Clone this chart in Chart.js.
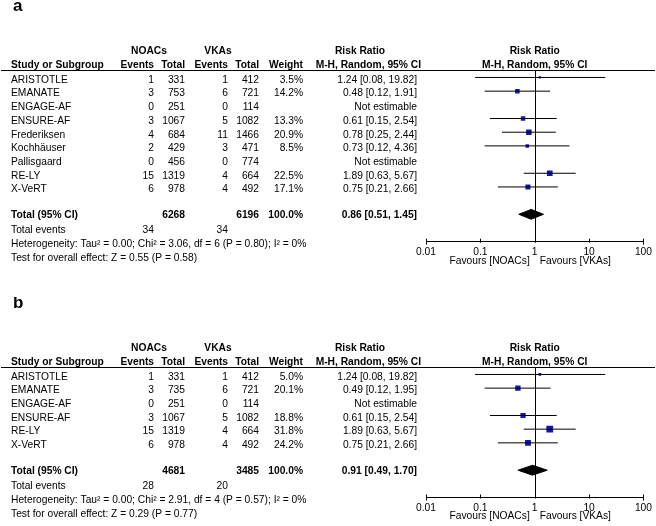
<!DOCTYPE html>
<html>
<head>
<meta charset="utf-8">
<script src="https://cdn.jsdelivr.net/npm/chart.js@4.4.0/dist/chart.umd.min.js"></script>
<style>
  html, body { margin: 0; padding: 0; background: #fff; }
  #wrap { position: relative; width: 656px; height: 526px; }
  canvas { position: absolute; left: 0; }
  #panelA { top: 0; }
  #panelB { top: 297px; }
</style>
</head>
<body>
<div id="wrap">
  <canvas id="panelA" width="656" height="297"></canvas>
  <canvas id="panelB" width="656" height="229"></canvas>
</div>
<script>
// ---- panel a ----
const aStudies = ['ARISTOTLE', 'EMANATE', 'ENGAGE-AF', 'ENSURE-AF', 'Frederiksen', 'Kochhäuser', 'Pallisgaard', 'RE-LY', 'X-VeRT'];
const aNoacEvents = [1, 3, 0, 3, 4, 2, 0, 15, 6];
const aNoacTotal = [331, 753, 251, 1067, 684, 429, 456, 1319, 978];
const aVkaEvents = [1, 6, 0, 5, 11, 3, 0, 4, 4];
const aVkaTotal = [412, 721, 114, 1082, 1466, 471, 774, 664, 492];
const aWeight = [3.5, 14.2, null, 13.3, 20.9, 8.5, null, 22.5, 17.1];
const aRR = [1.24, 0.48, null, 0.61, 0.78, 0.73, null, 1.89, 0.75];
const aLower = [0.08, 0.12, null, 0.15, 0.25, 0.12, null, 0.63, 0.21];
const aUpper = [19.82, 1.91, null, 2.54, 2.44, 4.36, null, 5.67, 2.66];
const aTotals = [6268, 6196];
const aTotalEvents = [34, 34];
const aPooled = [0.86, 0.51, 1.45]; // estimate, lower, upper
const aHetText = 'Heterogeneity: Tau² = 0.00; Chi² = 3.06, df = 6 (P = 0.80); I² = 0%';
const aTestText = 'Test for overall effect: Z = 0.55 (P = 0.58)';

// ---- panel b ----
const bStudies = ['ARISTOTLE', 'EMANATE', 'ENGAGE-AF', 'ENSURE-AF', 'RE-LY', 'X-VeRT'];
const bNoacEvents = [1, 3, 0, 3, 15, 6];
const bNoacTotal = [331, 735, 251, 1067, 1319, 978];
const bVkaEvents = [1, 6, 0, 5, 4, 4];
const bVkaTotal = [412, 721, 114, 1082, 664, 492];
const bWeight = [5.0, 20.1, null, 18.8, 31.8, 24.2];
const bRR = [1.24, 0.49, null, 0.61, 1.89, 0.75];
const bLower = [0.08, 0.12, null, 0.15, 0.63, 0.21];
const bUpper = [19.82, 1.95, null, 2.54, 5.67, 2.66];
const bTotals = [4681, 3485];
const bTotalEvents = [28, 20];
const bPooled = [0.91, 0.49, 1.70];
const bHetText = 'Heterogeneity: Tau² = 0.00; Chi² = 2.91, df = 4 (P = 0.57); I² = 0%';
const bTestText = 'Test for overall effect: Z = 0.29 (P = 0.77)';

const axisTicks = [0.01, 0.1, 1, 10, 100];

const FONT = '"Liberation Sans", Arial, sans-serif';
const FONT_PX = 10.25;
const SQUARE_BLUE = '#1414b4';
const ROW_PX = 13.71;
const TOP_PAD = 70;
const Y_TOP = -0.545;

// table column anchors (right edges unless noted)
const COL = { study: 11, noacEv: 154, noacTot: 185, vkaEv: 228, vkaTot: 259, weight: 303, rr: 417,
              noacHead: 149, vkaHead: 218, rrHead: 360, mhRight: 421 };

function fmtRR(r, l, h) {
    return r.toFixed(2) + ' [' + l.toFixed(2) + ', ' + h.toFixed(2) + ']';
}

function text(ctx, s, x, y, align, bold) {
    ctx.font = (bold ? 'bold ' : '') + FONT_PX + 'px ' + FONT;
    ctx.textAlign = align;
    ctx.fillText(s, x, y);
}

function buildForest(canvasId, p) {
    const n = p.studies.length;
    const totalRow = n + 1;
    const axisRow = n + 3;
    const canvas = document.getElementById(canvasId);
    const axisPx = TOP_PAD + (axisRow - Y_TOP) * ROW_PX;

    const datasets = [];
    // confidence interval whiskers
    p.rr.forEach((r, i) => {
        if (r === null) return;
        datasets.push({
            data: [{ x: p.lower[i], y: i }, { x: p.upper[i], y: i }],
            borderColor: '#000', borderWidth: 1, pointRadius: 0, fill: false
        });
    });
    // weighted squares
    const pts = [];
    const radii = [];
    p.rr.forEach((r, i) => {
        if (r === null) return;
        pts.push({ x: r, y: i });
        radii.push(0.85 * Math.sqrt(p.weight[i]));
    });
    datasets.push({
        data: pts, showLine: false, pointStyle: 'rect', pointRadius: radii,
        pointBackgroundColor: SQUARE_BLUE, pointBorderWidth: 0, borderColor: SQUARE_BLUE
    });
    // pooled diamond
    const dh = 0.36;
    datasets.push({
        data: [
            { x: p.pooled[1], y: totalRow },
            { x: p.pooled[0], y: totalRow - dh },
            { x: p.pooled[2], y: totalRow },
            { x: p.pooled[0], y: totalRow + dh },
            { x: p.pooled[1], y: totalRow }
        ],
        borderColor: '#000', borderWidth: 1, backgroundColor: '#000', fill: 'shape', pointRadius: 0
    });

    const tablePlugin = {
        id: 'forestTable',
        beforeDatasetsDraw(chart) {
            const ctx = chart.ctx;
            const area = chart.chartArea;
            const xs = chart.scales.x;
            const x1 = Math.round(xs.getPixelForValue(1)) + 0.5;
            ctx.save();
            ctx.strokeStyle = '#000';
            ctx.lineWidth = 1;
            ctx.beginPath();
            ctx.moveTo(x1, area.top);
            ctx.lineTo(x1, area.bottom);
            ctx.stroke();
            ctx.restore();
        },
        afterDraw(chart) {
            const ctx = chart.ctx;
            const area = chart.chartArea;
            const ys = chart.scales.y;
            const xs = chart.scales.x;
            const x1 = xs.getPixelForValue(1);
            ctx.save();
            ctx.fillStyle = '#000';

            // panel letter
            ctx.font = 'bold 17px ' + FONT;
            ctx.textAlign = 'left';
            ctx.textBaseline = 'alphabetic';
            ctx.fillText(p.label, 13, 11);
            ctx.textBaseline = 'middle';

            // headers
            const h1 = area.top - 19, h2 = area.top - 5;
            text(ctx, 'NOACs', COL.noacHead, h1, 'center', true);
            text(ctx, 'VKAs', COL.vkaHead, h1, 'center', true);
            text(ctx, 'Risk Ratio', COL.rrHead, h1, 'center', true);
            text(ctx, 'Risk Ratio', x1, h1, 'center', true);
            text(ctx, 'Study or Subgroup', COL.study, h2, 'left', true);
            text(ctx, 'Events', COL.noacEv, h2, 'right', true);
            text(ctx, 'Total', COL.noacTot, h2, 'right', true);
            text(ctx, 'Events', COL.vkaEv, h2, 'right', true);
            text(ctx, 'Total', COL.vkaTot, h2, 'right', true);
            text(ctx, 'Weight', COL.weight, h2, 'right', true);
            text(ctx, 'M-H, Random, 95% CI', COL.mhRight, h2, 'right', true);
            text(ctx, 'M-H, Random, 95% CI', x1, h2, 'center', true);

            // rule under headers
            ctx.strokeStyle = '#000';
            ctx.lineWidth = 1.2;
            ctx.beginPath();
            ctx.moveTo(1, area.top + 0.5);
            ctx.lineTo(655, area.top + 0.5);
            ctx.stroke();

            // study rows
            p.studies.forEach((s, i) => {
                const y = ys.getPixelForValue(i) + 2.5;
                text(ctx, s, COL.study, y, 'left', false);
                text(ctx, String(p.noacEvents[i]), COL.noacEv, y, 'right', false);
                text(ctx, String(p.noacTotal[i]), COL.noacTot, y, 'right', false);
                text(ctx, String(p.vkaEvents[i]), COL.vkaEv, y, 'right', false);
                text(ctx, String(p.vkaTotal[i]), COL.vkaTot, y, 'right', false);
                if (p.rr[i] === null) {
                    text(ctx, 'Not estimable', COL.rr, y, 'right', false);
                } else {
                    text(ctx, p.weight[i].toFixed(1) + '%', COL.weight, y, 'right', false);
                    text(ctx, fmtRR(p.rr[i], p.lower[i], p.upper[i]), COL.rr, y, 'right', false);
                }
            });

            // totals
            let y = ys.getPixelForValue(totalRow) + 0.5;
            text(ctx, 'Total (95% CI)', COL.study, y, 'left', true);
            text(ctx, String(p.totals[0]), COL.noacTot, y, 'right', true);
            text(ctx, String(p.totals[1]), COL.vkaTot, y, 'right', true);
            text(ctx, '100.0%', COL.weight, y, 'right', true);
            text(ctx, fmtRR(p.pooled[0], p.pooled[1], p.pooled[2]), COL.rr, y, 'right', true);

            y = ys.getPixelForValue(totalRow + 1) + 2.5;
            text(ctx, 'Total events', COL.study, y, 'left', false);
            text(ctx, String(p.totalEvents[0]), COL.noacEv, y, 'right', false);
            text(ctx, String(p.totalEvents[1]), COL.vkaEv, y, 'right', false);
            text(ctx, p.het, COL.study, ys.getPixelForValue(totalRow + 2) + 2.5, 'left', false);
            text(ctx, p.test, COL.study, ys.getPixelForValue(totalRow + 3) + 2.5, 'left', false);

            // axis tick marks
            ctx.lineWidth = 1;
            axisTicks.forEach((v, k) => {
                const tx = Math.round(xs.getPixelForValue(v)) + 0.5;
                const end = (k === 0 || k === axisTicks.length - 1);
                ctx.beginPath();
                ctx.moveTo(tx, area.bottom - 3);
                ctx.lineTo(tx, area.bottom + (end ? 3 : 1));
                ctx.stroke();
            });

            // favours labels
            const fy = area.bottom + 19;
            text(ctx, 'Favours [NOACs]', x1 - 5, fy, 'right', false);
            text(ctx, 'Favours [VKAs]', x1 + 5, fy, 'left', false);
            ctx.restore();
        }
    };

    return new Chart(canvas, {
        type: 'line',
        data: { datasets },
        options: {
            responsive: false,
            animation: false,
            events: [],
            layout: { padding: { left: 426, right: 11, top: TOP_PAD, bottom: canvas.height - axisPx - 20 } },
            plugins: { legend: { display: false }, tooltip: { enabled: false } },
            scales: {
                x: {
                    type: 'logarithmic', min: 0.01, max: 100, position: 'bottom',
                    afterBuildTicks: (s) => { s.ticks = axisTicks.map(v => ({ value: v })); },
                    ticks: { callback: (v) => String(v), color: '#000', padding: 4, maxRotation: 0, autoSkip: false,
                             font: { size: FONT_PX, family: FONT } },
                    grid: { display: false, drawTicks: false },
                    border: { display: true, color: '#000', width: 1 }
                },
                y: { type: 'linear', display: false, reverse: true, min: Y_TOP, max: axisRow }
            }
        },
        plugins: [tablePlugin]
    });
}

document.addEventListener('DOMContentLoaded', () => {
    buildForest('panelA', {
        label: 'a', studies: aStudies, noacEvents: aNoacEvents, noacTotal: aNoacTotal,
        vkaEvents: aVkaEvents, vkaTotal: aVkaTotal, weight: aWeight, rr: aRR, lower: aLower, upper: aUpper,
        totals: aTotals, totalEvents: aTotalEvents, pooled: aPooled, het: aHetText, test: aTestText
    });
    buildForest('panelB', {
        label: 'b', studies: bStudies, noacEvents: bNoacEvents, noacTotal: bNoacTotal,
        vkaEvents: bVkaEvents, vkaTotal: bVkaTotal, weight: bWeight, rr: bRR, lower: bLower, upper: bUpper,
        totals: bTotals, totalEvents: bTotalEvents, pooled: bPooled, het: bHetText, test: bTestText
    });
});
</script>
</body>
</html>
